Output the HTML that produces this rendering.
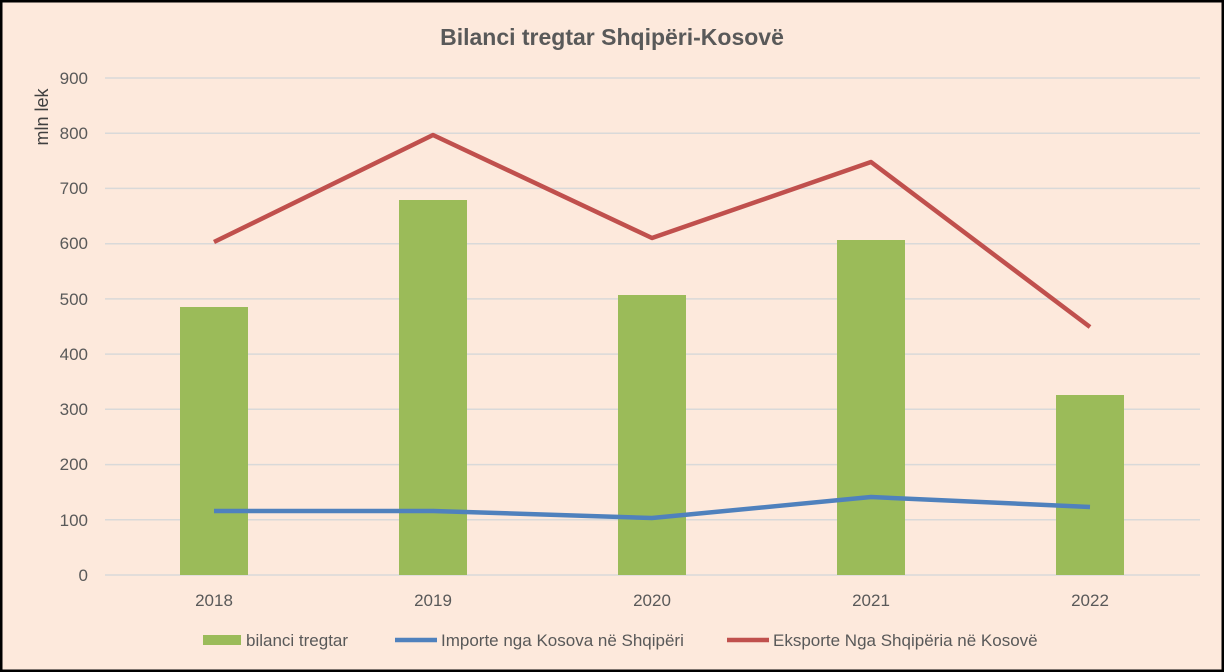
<!DOCTYPE html>
<html><head><meta charset="utf-8"><style>
html,body{margin:0;padding:0;background:#fde9dc;width:1224px;height:672px;overflow:hidden}
svg{display:block}
</style></head><body>
<svg width="1224" height="672" xmlns="http://www.w3.org/2000/svg" font-family="Liberation Sans, sans-serif">
<rect x="1" y="1" width="1222" height="670" fill="#fde9dc" stroke="#000" stroke-width="3"/>
<text x="612" y="45" text-anchor="middle" font-size="23" font-weight="bold" fill="#595959">Bilanci tregtar Shqipëri-Kosovë</text>
<g stroke="#d9d9d9" stroke-width="1.5">
<line x1="105" x2="1200" y1="78" y2="78"/><line x1="105" x2="1200" y1="133.2" y2="133.2"/>
<line x1="105" x2="1200" y1="188.4" y2="188.4"/><line x1="105" x2="1200" y1="243.7" y2="243.7"/>
<line x1="105" x2="1200" y1="298.9" y2="298.9"/><line x1="105" x2="1200" y1="354.1" y2="354.1"/>
<line x1="105" x2="1200" y1="409.3" y2="409.3"/><line x1="105" x2="1200" y1="464.6" y2="464.6"/>
<line x1="105" x2="1200" y1="519.8" y2="519.8"/><line x1="105" x2="1200" y1="575" y2="575"/>
</g>
<g font-size="17" fill="#595959" text-anchor="end">
<text x="88" y="84">900</text><text x="88" y="139">800</text><text x="88" y="194">700</text>
<text x="88" y="249">600</text><text x="88" y="305">500</text><text x="88" y="360">400</text>
<text x="88" y="415">300</text><text x="88" y="470">200</text><text x="88" y="526">100</text>
<text x="88" y="581">0</text>
</g>
<text transform="translate(48,117) rotate(-90)" text-anchor="middle" font-size="18" fill="#404040">mln lek</text>
<g fill="#9bbb59">
<rect x="180" y="307" width="68" height="268"/>
<rect x="399" y="200" width="68" height="375"/>
<rect x="618" y="295" width="68" height="280"/>
<rect x="837" y="240" width="68" height="335"/>
<rect x="1056" y="395" width="68" height="180"/>
</g>
<polyline points="214,242 433,135 652,238 871,162 1090,327" fill="none" stroke="#c0504d" stroke-width="4.5" stroke-linejoin="round"/>
<polyline points="214,511 433,511 652,518 871,497 1090,507" fill="none" stroke="#4f81bd" stroke-width="4.5" stroke-linejoin="round"/>
<g font-size="17" fill="#595959" text-anchor="middle">
<text x="214" y="606">2018</text><text x="433" y="606">2019</text><text x="652" y="606">2020</text>
<text x="871" y="606">2021</text><text x="1090" y="606">2022</text>
</g>
<g font-size="17" fill="#595959">
<rect x="203" y="635" width="38" height="10" fill="#9bbb59"/>
<text x="246" y="646">bilanci tregtar</text>
<line x1="395" x2="437" y1="640" y2="640" stroke="#4f81bd" stroke-width="4.5"/>
<text x="441" y="646">Importe nga Kosova në Shqipëri</text>
<line x1="727" x2="769" y1="640" y2="640" stroke="#c0504d" stroke-width="4.5"/>
<text x="773" y="646">Eksporte Nga Shqipëria në Kosovë</text>
</g>
</svg>
</body></html>
